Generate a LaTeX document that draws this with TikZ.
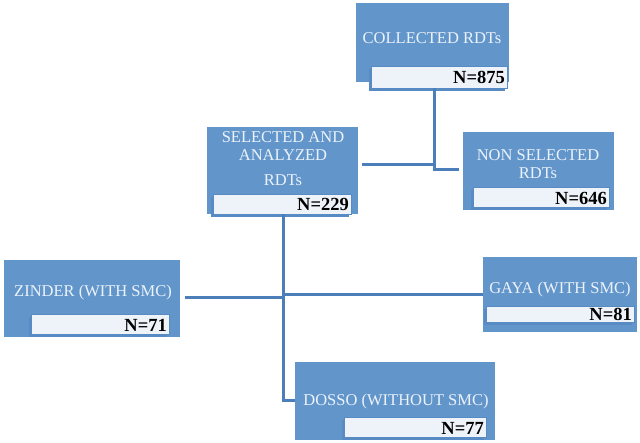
\documentclass[tikz,border=0pt]{standalone}
\usepackage{fontspec}
\setmainfont{Liberation Serif}
\usetikzlibrary{shadows}
\definecolor{boxblue}{RGB}{98,150,203}
\definecolor{lineblue}{RGB}{76,126,185}
\definecolor{labfill}{RGB}{238,243,250}
\definecolor{labedge}{RGB}{88,138,195}
\definecolor{titlecol}{RGB}{236,242,250}
\begin{document}
\begin{tikzpicture}[x=1pt,y=-1pt,
  bluebox/.style={fill=boxblue, draw=none, anchor=north west, inner sep=0pt, outer sep=0pt},
  labbox/.style={fill=labfill, draw=labedge, line width=0.8pt, anchor=north west, inner sep=0pt, outer sep=0pt,
    drop shadow={shadow xshift=-2pt, shadow yshift=-2.5pt, fill=labedge, opacity=1}},
  title/.style={text=titlecol, font=\fontsize{16.5}{18}\selectfont, align=center, inner sep=0pt},
  nlab/.style={text=black, font=\fontsize{18.5}{20}\selectfont\bfseries, anchor=east, inner sep=0pt},
  conn/.style={draw=lineblue, line width=3pt}]
\useasboundingbox (0,0) rectangle (640,442);

% COLLECTED
\node[bluebox, minimum width=153pt, minimum height=79pt] (col) at (356,3) {};
\node[labbox, minimum width=136pt, minimum height=22pt] (coll) at (371,66) {};
\node[title] (colt) at (432,38) {COLLECTED RDTs};
\node[nlab] (coln) at (505,77.5) {N=875};

% SELECTED
\node[bluebox, minimum width=151pt, minimum height=87pt] (sel) at (207,127) {};
\node[labbox, minimum width=138pt, minimum height=20pt] (sell) at (213,194) {};
\node[title] (selt) at (283,158.5) {SELECTED AND\\ANALYZED\\[7pt]RDTs};
\node[nlab] (seln) at (349,204) {N=229};

% NON SELECTED
\node[bluebox, minimum width=151pt, minimum height=78pt] (non) at (463,132) {};
\node[labbox, minimum width=136pt, minimum height=20pt] (nonl) at (473,187) {};
\node[title] (nont) at (538,164) {NON SELECTED\\RDTs};
\node[nlab] (nonn) at (607,198) {N=646};

% ZINDER
\node[bluebox, minimum width=176pt, minimum height=77pt] (zin) at (4,260) {};
\node[labbox, minimum width=138pt, minimum height=20pt] (zinl) at (31,314) {};
\node[title] (zint) at (93,293) {ZINDER (WITH SMC)};
\node[nlab] (zinn) at (167,325) {N=71};

% GAYA
\node[bluebox, minimum width=154pt, minimum height=75pt] (gay) at (483,257) {};
\node[labbox, minimum width=148pt, minimum height=16pt] (gayl) at (486,306) {};
\node[title] (gayt) at (560,290) {GAYA (WITH SMC)};
\node[nlab] (gayn) at (632,314.5) {N=81};

% DOSSO
\node[bluebox, minimum width=200pt, minimum height=78pt] (dos) at (295,362) {};
\node[labbox, minimum width=142pt, minimum height=20pt] (dosl) at (344,417) {};
\node[title] (dost) at (396,402) {DOSSO (WITHOUT SMC)};
\node[nlab] (dosn) at (484,428) {N=77};

% connectors
\coordinate (ja) at (434,164);
\coordinate (jb) at (434,169);
\coordinate (jc) at (283,297);
\coordinate (jd) at (283,294);
\coordinate (je) at (283,400);

\draw[conn] (coll.south -| ja) -- (434,170.5);
\draw[conn, shorten <=4pt] (sel.east |- ja) -- ([xshift=1.5pt]ja);
\draw[conn, shorten >=4pt] (jb) -- (non.west |- jb);
\draw[conn] (sell.south -| je) -- (je) -- (dos.west |- je);
\draw[conn, shorten <=5pt] (zin.east |- jc) -- ([xshift=1.5pt]jc);
\draw[conn] (jd) -- (gay.west |- jd);
\end{tikzpicture}
\end{document}
